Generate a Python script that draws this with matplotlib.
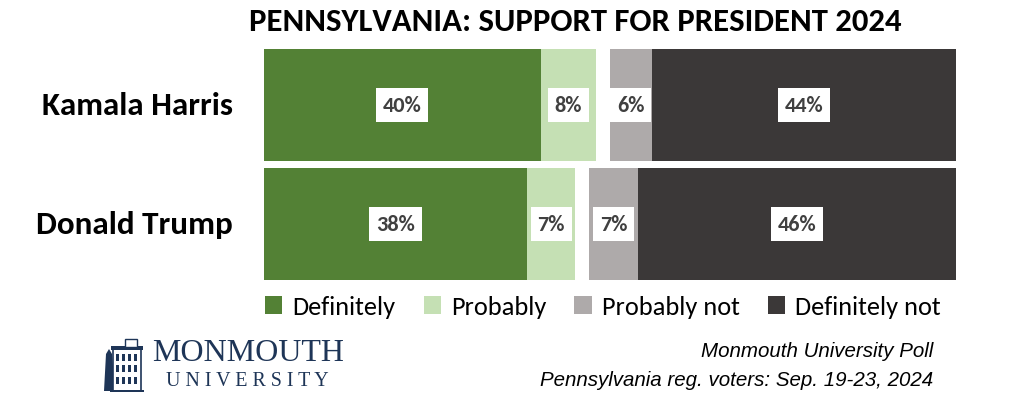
import matplotlib
matplotlib.use("Agg")
import matplotlib.pyplot as plt
from matplotlib.patches import Rectangle, Polygon, Patch
from matplotlib import font_manager

categories = ["Kamala Harris", "Donald Trump"]
series_names = ["Definitely", "Probably", "Probably not", "Definitely not"]
definitely = [40, 38]
probably = [8, 7]
probably_not = [6, 7]
definitely_not = [44, 46]
value_labels = [["40%", "8%", "6%", "44%"], ["38%", "7%", "7%", "46%"]]
title = "PENNSYLVANIA: SUPPORT FOR PRESIDENT 2024"
source_lines = ["Monmouth University Poll", "Pennsylvania reg. voters: Sep. 19-23, 2024"]

colors = ["#538135", "#C5E0B4", "#AEAAAA", "#3B3838"]
GAP = 2.0

W, H = 1024, 402
fig = plt.figure(figsize=(W / 100, H / 100), dpi=100)
fig.patch.set_facecolor("white")

def fx(px):
    return px / W

def fy(py):
    return 1 - py / H

names = {f.name for f in font_manager.fontManager.ttflist}
CAL = "Carlito" if "Carlito" in names else "Lato"
SERIF = "Liberation Serif"

ax_l, ax_r, ax_t, ax_b = 264, 956, 50, 281
ax = fig.add_axes([fx(ax_l), fy(ax_b), (ax_r - ax_l) / W, (ax_b - ax_t) / H])
ax.set_xlim(0, 100)
ax.set_ylim(1.47, -0.47)
ax.axis("off")

bar_h = 0.941
renderer = fig.canvas.get_renderer()
for i in range(len(categories)):
    vals = [definitely[i], probably[i], probably_not[i], definitely_not[i]]
    lefts = [0, vals[0], vals[0] + vals[1] + GAP, vals[0] + vals[1] + GAP + vals[2]]
    for j, (v, l) in enumerate(zip(vals, lefts)):
        ax.barh(i, v, left=l, height=bar_h, color=colors[j], edgecolor="none")
        ax.text(l + v / 2, i, value_labels[i][j], ha="center", va="center",
                fontsize=16, fontweight="bold", family=CAL, color="#404040",
                bbox=dict(boxstyle="square,pad=0.3", fc="white", ec="none"))

def fit(t, target_w):
    fs = t.get_fontsize()
    for _ in range(3):
        bb = t.get_window_extent(renderer=renderer)
        fs = fs * target_w / bb.width
        t.set_fontsize(fs)

tt = fig.text(fx(575), fy(22), title, ha="center", va="center",
              family=CAL, fontweight="bold", fontsize=24, color="black")
fit(tt, 653)

cat_y = [106, 225]
cat_w = [191, 197]
for name, y, w in zip(categories, cat_y, cat_w):
    t = fig.text(fx(233), fy(y), name, ha="right", va="center",
                 family=CAL, fontweight="bold", fontsize=24, color="black")
    fit(t, w)

handles = [Patch(facecolor=c, edgecolor="none") for c in colors]
leg = fig.legend(handles, series_names, loc="center", bbox_to_anchor=(fx(603), fy(308)),
                 ncol=4, frameon=False, prop={"family": CAL, "size": 19},
                 handlelength=0.65, handleheight=0.65, handletextpad=0.4,
                 columnspacing=1.05, borderpad=0, borderaxespad=0)

fig.text(fx(933), fy(352), source_lines[0], ha="right", va="center",
         family="Liberation Sans", style="italic", fontsize=14.8, color="black")
fig.text(fx(933), fy(381), source_lines[1], ha="right", va="center",
         family="Liberation Sans", style="italic", fontsize=14.8, color="black")

navy = "#1E3557"
tm = fig.text(fx(152), fy(354), "MONMOUTH", ha="left", va="center", family=SERIF,
              fontsize=24, color=navy)
fit(tm, 191)
tu = fig.text(fx(247), fy(382), "U N I V E R S I T Y", ha="center", va="center",
              family=SERIF, fontsize=13, color=navy)
fit(tu, 163)
la = fig.add_axes([fx(100), fy(393), 45 / W, 55 / H])
la.set_xlim(100, 145)
la.set_ylim(393, 338)
la.axis("off")
la.add_patch(Polygon([[104, 392], [106, 355], [109, 350], [112, 355], [115, 392]],
                     closed=True, fc=navy, ec="none"))
la.add_patch(Rectangle((113, 350), 28, 42, fc="white", ec=navy, lw=1.2))
la.add_patch(Rectangle((111, 347), 32, 4, fc=navy, ec="none"))
la.add_patch(Rectangle((125, 340), 12, 8, fc="white", ec=navy, lw=1))
for wx in [116, 122, 128, 134]:
    for wy in [355, 366, 378]:
        la.add_patch(Rectangle((wx, wy), 3, 7, fc=navy, ec="none"))
la.add_patch(Rectangle((110, 391), 34, 2, fc=navy, ec="none"))

fig.savefig("out.png", dpi=100, facecolor="white")
